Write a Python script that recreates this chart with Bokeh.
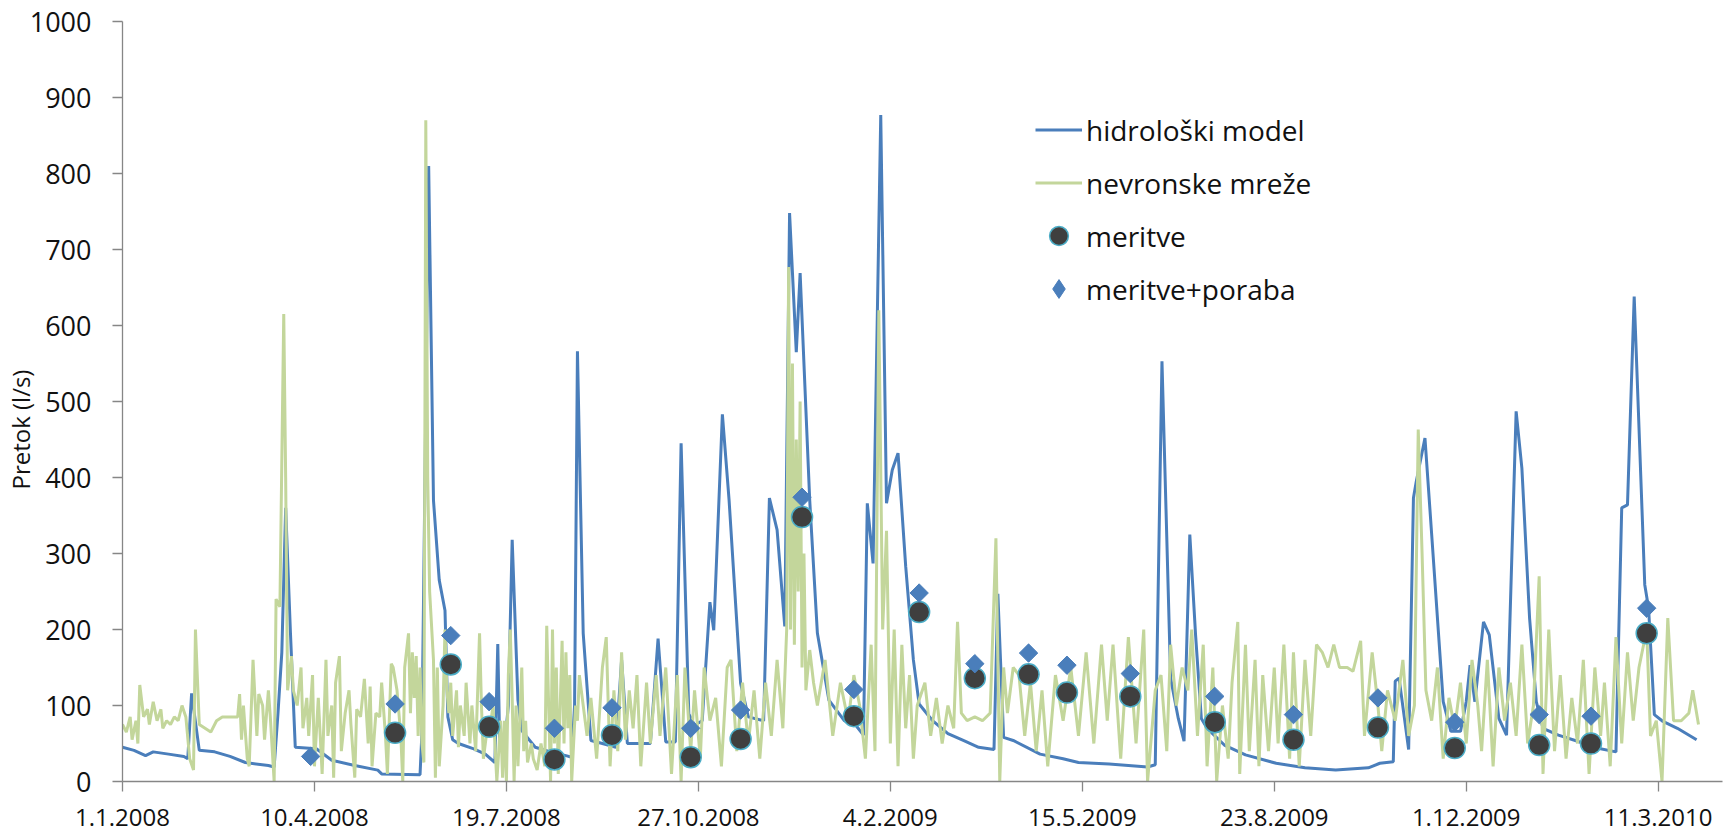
import math
from bokeh.plotting import figure
from bokeh.models import Range1d, FixedTicker, Legend, LegendItem
from bokeh.embed import file_html
from bokeh.resources import INLINE

# ---- data (day offsets from 1.1.2008) ----
tick_days = [0, 100, 200, 300, 400, 500, 600, 700, 800]
tick_labels = ["1.1.2008", "10.4.2008", "19.7.2008", "27.10.2008", "4.2.2009",
               "15.5.2009", "23.8.2009", "1.12.2009", "11.3.2010"]
y_ticks = [0, 100, 200, 300, 400, 500, 600, 700, 800, 900, 1000]
y_title = "Pretok (l/s)"

hidro_days = [0, 6, 12, 16, 24, 32, 34, 36, 40, 48, 56, 64, 76, 79, 81, 83, 85, 87.5, 90,
              101, 109, 121, 133, 135, 155, 156, 159.5, 162, 165, 168, 169.5, 172, 175, 183,
              189, 194, 195.5, 196.5, 199, 201, 203, 206, 208, 215, 223, 231, 234, 235.5, 237,
              240, 244, 250, 257, 260, 263, 275, 279, 283, 288, 291, 295, 298, 302, 306, 308,
              312.5, 316, 322, 326, 334, 337, 341, 345, 347.5, 351, 353, 358, 362, 368, 376,
              382, 386, 388, 391, 395, 398, 401, 404, 408, 412, 415, 422, 430, 438, 446, 454,
              456, 459, 464, 478, 490, 498, 514, 534, 538, 541.5, 546, 550, 553, 556, 559, 562,
              565, 574, 585, 601, 616, 632, 649, 655, 662, 663, 665, 670, 672.5, 674, 678.5,
              682, 688, 692, 697, 700, 702, 704.5, 709, 712, 717, 721, 726, 729, 733, 736.5,
              740, 748, 758, 768, 778, 781, 784, 787.5, 793, 795, 798, 802.5, 810, 820]
hidro_vals = [45, 41, 34, 39, 36, 33, 30, 116, 41, 39, 33, 25, 21, 19, 90, 170, 360, 195, 45,
              43, 28, 21, 15, 10, 9, 65, 810, 370, 265, 225, 85, 55, 50, 43,
              36, 25, 181, 50, 45, 100, 318, 107, 67, 45, 39, 34, 32, 100, 566,
              195, 54, 50, 45, 160, 50, 50, 188, 52, 52, 445, 89, 74, 80, 236, 199,
              483, 370, 129, 85, 80, 373, 331, 204, 748, 565, 669, 370, 195, 107, 80,
              74, 61, 366, 287, 877, 366, 410, 432, 283, 160, 102, 80, 63, 54, 45, 42,
              247, 58, 54, 36, 30, 25, 23, 19, 22, 553, 136, 83, 53, 325, 193, 83,
              70, 48, 35, 24, 18, 15, 18, 24, 26, 132, 136, 42, 373, 395, 452,
              325, 105, 66, 66, 105, 153, 105, 210, 193, 83, 61, 487, 412, 215, 105,
              70, 61, 53, 44, 39, 360, 364, 638, 259, 228, 88, 79, 70, 55]

nn_days = [0, 2, 4, 5, 7, 8, 9, 11, 13, 14, 16, 18, 20, 21, 23, 25, 27, 29, 31, 33, 35, 37, 38,
           40, 43, 46, 49, 52, 56, 60, 61, 62, 63, 65, 66, 68, 70, 71, 73, 74, 76, 77, 79, 80,
           82, 84, 85, 86, 88, 89, 91, 93, 94, 96, 97, 99, 100, 102, 104, 106, 107, 109, 110,
           111, 113, 114, 116, 118, 119, 121, 122, 124, 126, 128, 129, 130, 132, 134, 135, 137,
           138, 140, 141, 143, 145, 146, 147, 149, 150, 151, 152, 153, 154, 155, 156, 157, 158,
           159, 160, 162, 163, 164, 165, 167, 168, 169, 170, 171, 172, 174, 175, 176, 178, 179,
           181, 182, 184, 186, 187, 188, 190, 191, 193, 195, 197, 198, 199, 200, 201, 202, 203,
           204, 205, 206, 208, 209, 210, 211, 213, 214, 216, 218, 220, 221, 222, 223, 224, 225,
           226, 227, 229, 230, 231, 232, 233, 234, 236, 237, 238, 242, 244, 247, 250, 252, 254,
           256, 258, 260, 262, 264, 266, 268, 270, 273, 275, 278, 280, 283, 286, 289, 291, 293,
           296, 298, 301, 303, 306, 309, 312, 315, 317, 320, 323, 326, 329, 332, 335, 338, 341,
           344, 346, 347, 348, 349, 350, 351, 352, 353, 354, 355, 356, 358, 360, 362, 366, 370,
           374, 378, 381, 384, 387, 390, 392, 394, 396, 398, 400, 402, 404, 406, 408, 410, 412,
           414, 418, 421, 424, 427, 430, 433, 435, 437, 440, 444, 448, 452, 455, 457, 459, 461,
           464, 467, 470, 473, 476, 479, 482, 486, 490, 494, 498, 502, 506, 510, 513, 516, 520,
           524, 528, 532, 534, 536, 538, 541, 544, 546, 549, 552, 555, 557, 560, 563, 565, 568,
           570, 573, 576, 578, 581, 582, 585, 587, 590, 592, 594, 597, 600, 602, 605, 608, 610,
           613, 616, 619, 622, 625, 628, 631, 634, 638, 641, 645, 647, 651, 654, 656, 659, 663,
           667, 670, 673, 675, 677, 679, 682, 685, 688, 691, 694, 697, 700, 703, 706, 708, 711,
           714, 717, 720, 723, 726, 729, 732, 735, 738, 740, 743, 746, 749, 752, 755, 758, 761,
           764, 767, 770, 772, 775, 778, 781, 784, 787, 790, 794, 796, 799, 802, 805, 808, 812,
           816, 818, 821]
nn_vals = [75, 65, 85, 55, 80, 50, 127, 85, 95, 75, 105, 80, 95, 70, 80, 75, 85, 80, 100, 85,
           30, 15, 200, 75, 70, 65, 80, 85, 85, 85, 115, 55, 100, 30, 20, 160, 60, 115, 100, 55,
           120, 85, 0, 240, 230, 615, 400, 120, 165, 120, 100, 150, 70, 110, 60, 140, 20, 110,
           10, 160, 60, 100, 5, 130, 165, 40, 90, 120, 75, 5, 95, 85, 135, 50, 125, 20, 90, 85,
           130, 60, 10, 155, 150, 120, 60, 0, 150, 195, 90, 170, 110, 165, 60, 150, 50, 25, 870,
           400, 250, 160, 5, 150, 20, 100, 200, 120, 90, 130, 60, 120, 45, 100, 60, 130, 50, 100,
           40, 195, 100, 30, 70, 60, 100, 0, 80, 5, 80, 0, 140, 200, 110, 0, 100, 20, 150, 40,
           80, 25, 50, 30, 15, 50, 20, 205, 100, 0, 200, 50, 150, 10, 185, 50, 170, 70, 140, 0,
           100, 80, 140, 60, 110, 30, 150, 190, 20, 120, 40, 170, 55, 120, 70, 140, 20, 130, 50,
           140, 60, 150, 10, 140, 0, 150, 40, 120, 30, 150, 80, 110, 20, 150, 160, 40, 130, 50,
           120, 30, 130, 60, 160, 70, 200, 677, 200, 550, 180, 450, 250, 500, 150, 300, 120, 173,
           130, 100, 160, 60, 130, 80, 140, 100, 30, 180, 40, 620, 200, 330, 50, 200, 20, 180,
           70, 140, 30, 100, 130, 60, 110, 50, 100, 70, 210, 90, 80, 85, 80, 90, 320, 0, 150,
           90, 150, 140, 60, 130, 40, 120, 20, 140, 80, 150, 60, 170, 50, 180, 80, 180, 30, 190,
           50, 200, 0, 60, 120, 140, 40, 180, 100, 150, 120, 200, 60, 180, 20, 150, 0, 100, 30,
           130, 210, 10, 180, 40, 160, 20, 140, 40, 150, 50, 180, 30, 170, 20, 160, 60, 180, 170,
           150, 180, 150, 150, 145, 185, 60, 170, 100, 40, 120, 80, 160, 60, 100, 463, 300, 120,
           80, 150, 30, 110, 70, 130, 50, 160, 100, 40, 160, 20, 150, 80, 130, 60, 180, 50, 100,
           270, 10, 200, 40, 140, 30, 110, 50, 160, 10, 150, 60, 130, 20, 190, 50, 170, 80, 150,
           200, 60, 80, 0, 215, 80, 80, 90, 120, 75]

mer_days = [142, 171, 191, 225, 255, 296, 322, 354, 381, 415, 444, 472, 492, 525, 569, 610,
            654, 694, 738, 765, 794]
mer_vals = [64, 154, 72, 29, 61, 32, 56, 348, 86, 223, 136, 141, 117, 112, 78, 55, 71, 44,
            48, 50, 195]
por_days = [98, 142, 171, 191, 225, 255, 296, 322, 354, 381, 415, 444, 472, 492, 525, 569,
            610, 654, 694, 738, 765, 794]
por_vals = [33, 102, 192, 105, 70, 97, 70, 94, 374, 121, 248, 155, 169, 153, 142, 112, 88,
            110, 78, 88, 86, 228]

FONT = "Open Sans"
BLUE = "#4A7EBB"

p = figure(width=1733, height=833, output_backend="svg", toolbar_location=None,
           x_range=Range1d(0, 833.5), y_range=Range1d(0, 1000),
           min_border_left=122, min_border_top=21, min_border_right=11,
           min_border_bottom=52)
p.outline_line_color = None
p.grid.visible = False
p.background_fill_color = "white"

r_h = p.line(hidro_days, hidro_vals, line_color=BLUE, line_width=3)
r_n = p.line(nn_days, nn_vals, line_color="#C3D69B", line_width=3)
r_m = p.scatter(mer_days, mer_vals, marker="circle", size=21, fill_color="#3F3F3F",
                line_color="#4BACC6", line_width=1.5)
r_p = p.scatter(por_days, por_vals, marker="square", size=13, angle=math.pi / 4,
                fill_color=BLUE, line_color=BLUE, line_width=1)
# legend proxy (legend markers are drawn unrotated); its single point is NaN, so not plotted
r_p_leg = p.scatter([float("nan")], [float("nan")], marker="diamond", size=13,
                    fill_color=BLUE, line_color=BLUE, line_width=1)

for ax in (p.xaxis[0], p.yaxis[0]):
    ax.axis_line_color = "#868686"
    ax.axis_line_width = 1.3
    ax.major_tick_line_color = "#868686"
    ax.major_tick_line_width = 1.3
    ax.major_tick_out = 10
    ax.major_tick_in = 0
    ax.minor_tick_line_color = None
    ax.major_label_text_font = FONT
    ax.major_label_text_color = "#111111"

p.xaxis.ticker = FixedTicker(ticks=tick_days)
p.xaxis.major_label_overrides = {d: l for d, l in zip(tick_days, tick_labels)}
p.xaxis.major_label_text_font_size = "24px"
p.xaxis.major_label_standoff = 17

p.yaxis.ticker = FixedTicker(ticks=y_ticks)
p.yaxis.major_label_text_font_size = "27px"
p.yaxis.major_label_standoff = 21
# trailing no-break spaces push the visible title a little below the frame centre
p.yaxis.axis_label = y_title + "\u00a0" * 9
p.yaxis.axis_label_text_font = FONT
p.yaxis.axis_label_text_font_style = "normal"
p.yaxis.axis_label_text_font_size = "24px"
p.yaxis.axis_label_standoff = -10
p.yaxis.axis_label_text_color = "#111111"

legend = Legend(items=[
    LegendItem(label="hidrološki model", renderers=[r_h]),
    LegendItem(label="nevronske mreže", renderers=[r_n]),
    LegendItem(label="meritve", renderers=[r_m]),
    LegendItem(label="meritve+poraba", renderers=[r_p_leg]),
], location=(913, 466))
legend.label_text_font = FONT
legend.label_text_font_size = "28px"
legend.label_text_color = "#111111"
legend.glyph_width = 47
legend.glyph_height = 53
legend.label_height = 40
legend.spacing = 0
legend.padding = 0
legend.margin = 0
legend.label_standoff = 4
legend.border_line_color = None
legend.background_fill_alpha = 0
p.add_layout(legend)

open("out.html", "w").write(file_html(p, INLINE))
